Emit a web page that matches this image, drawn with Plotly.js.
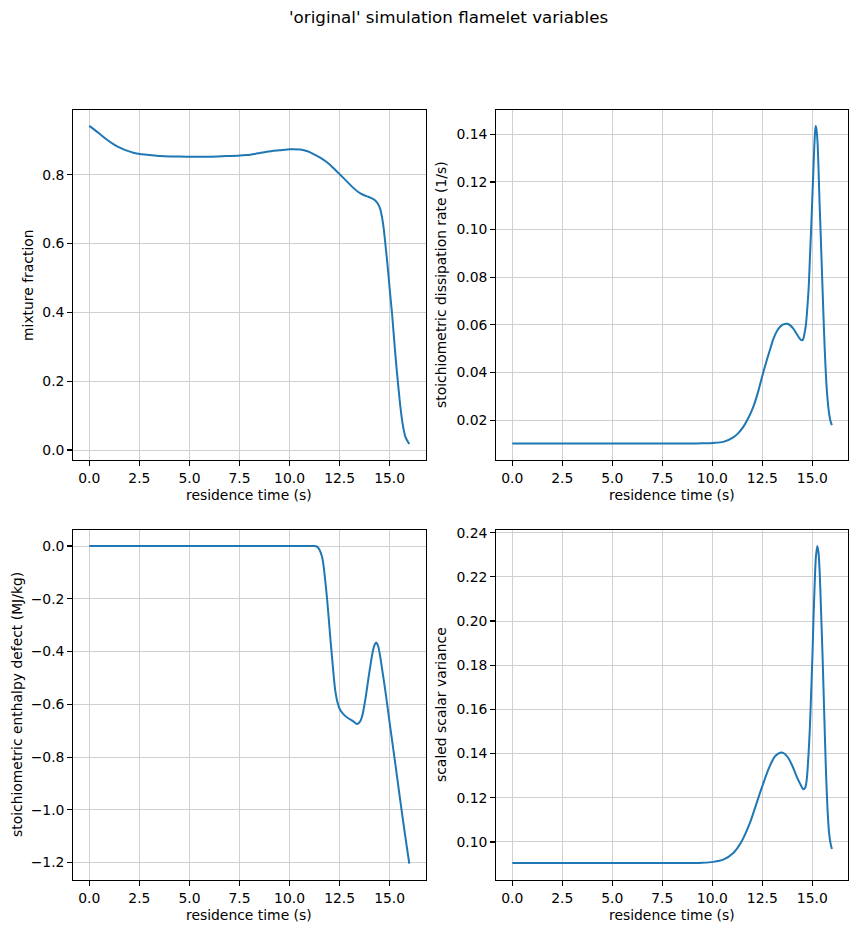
<!DOCTYPE html>
<html>
<head>
<meta charset="utf-8">
<script src="https://cdn.plot.ly/plotly-3.0.1.min.js"></script>
<style>html,body{margin:0;padding:0;background:#fff;}#chart{width:858px;height:933px;}</style>
</head>
<body>
<div id="chart"></div>
<script>
// residence time (s) and values for each panel
const tMix = [0, 0.25, 0.53, 0.85, 1.2, 1.55, 1.87, 2.2, 2.53, 3.0, 3.53, 4.3, 5.03, 6.0, 6.87, 7.4, 7.87, 8.4, 8.87, 9.5, 10.03, 10.53, 10.9, 11.2, 11.55, 11.87, 12.2, 12.53, 12.87, 13.2, 13.45, 13.7, 13.92, 14.12, 14.28, 14.42, 14.53, 14.62, 14.7, 14.78, 14.87, 14.95, 15.03, 15.12, 15.2, 15.28, 15.37, 15.45, 15.53, 15.62, 15.7, 15.78, 15.88, 15.98];
const mixtureFraction = [0.942, 0.931, 0.918, 0.903, 0.889, 0.878, 0.870, 0.864, 0.860, 0.857, 0.854, 0.853, 0.852, 0.852, 0.854, 0.855, 0.857, 0.862, 0.867, 0.871, 0.874, 0.873, 0.868, 0.860, 0.849, 0.836, 0.819, 0.800, 0.780, 0.761, 0.749, 0.741, 0.736, 0.731, 0.725, 0.715, 0.700, 0.676, 0.645, 0.602, 0.551, 0.502, 0.450, 0.396, 0.338, 0.280, 0.222, 0.174, 0.128, 0.087, 0.059, 0.039, 0.027, 0.0174];

const tChi = [0, 2, 4, 6, 8, 9.0, 9.5, 10.05, 10.55, 11.05, 11.3, 11.55, 11.8, 12.05, 12.3, 12.52, 12.72, 12.9, 13.05, 13.22, 13.38, 13.55, 13.75, 13.9, 14.05, 14.2, 14.35, 14.45, 14.53, 14.6, 14.68, 14.75, 14.82, 14.88, 14.94, 15.0, 15.05, 15.1, 15.14, 15.17, 15.21, 15.26, 15.31, 15.36, 15.42, 15.48, 15.55, 15.62, 15.7, 15.77, 15.84, 15.91, 15.98];
const dissipationRate = [0.0102, 0.0102, 0.0102, 0.0102, 0.0102, 0.0102, 0.0103, 0.01045, 0.0109, 0.0128, 0.0146, 0.0172, 0.0209, 0.0256, 0.0322, 0.0392, 0.0451, 0.0500, 0.0540, 0.0572, 0.0591, 0.0602, 0.0605, 0.0598, 0.0584, 0.0565, 0.0545, 0.0536, 0.0538, 0.0560, 0.0600, 0.0670, 0.0758, 0.088, 0.100, 0.113, 0.124, 0.135, 0.141, 0.1435, 0.142, 0.137, 0.126, 0.112, 0.098, 0.083, 0.066, 0.050, 0.036, 0.028, 0.0228, 0.0197, 0.0179];

const tH = [0, 5, 10, 10.8, 11.2, 11.37, 11.5, 11.62, 11.7, 11.78, 11.87, 11.95, 12.03, 12.12, 12.2, 12.28, 12.4, 12.53, 12.75, 12.95, 13.17, 13.37, 13.5, 13.62, 13.78, 13.95, 14.07, 14.17, 14.25, 14.33, 14.42, 14.53, 14.65, 14.78, 15.0, 15.2, 15.37, 15.53, 15.75, 15.98];
const enthalpyDefect = [0, 0, 0, 0, 0, -0.002, -0.015, -0.04, -0.075, -0.129, -0.197, -0.268, -0.343, -0.42, -0.488, -0.546, -0.594, -0.622, -0.642, -0.654, -0.664, -0.675, -0.668, -0.647, -0.584, -0.496, -0.437, -0.395, -0.374, -0.366, -0.378, -0.42, -0.48, -0.546, -0.67, -0.78, -0.875, -0.965, -1.085, -1.204];

const tVar = [0, 5, 9.0, 9.5, 10.05, 10.55, 11.05, 11.47, 11.88, 12.12, 12.38, 12.6, 12.8, 12.97, 13.13, 13.3, 13.47, 13.63, 13.8, 14.0, 14.22, 14.4, 14.55, 14.64, 14.72, 14.8, 14.88, 14.94, 15.0, 15.06, 15.12, 15.18, 15.25, 15.31, 15.37, 15.44, 15.52, 15.6, 15.68, 15.76, 15.84, 15.91, 15.98];
const scaledVariance = [0.0905, 0.0905, 0.0905, 0.0906, 0.091, 0.092, 0.095, 0.1003, 0.1086, 0.115, 0.1221, 0.1278, 0.1327, 0.1362, 0.1387, 0.1400, 0.1405, 0.1398, 0.138, 0.1345, 0.1296, 0.1262, 0.1239, 0.1245, 0.1281, 0.138, 0.152, 0.167, 0.1823, 0.201, 0.217, 0.229, 0.234, 0.231, 0.222, 0.204, 0.182, 0.157, 0.133, 0.115, 0.104, 0.0995, 0.0968];

const xTitle = 'residence time (s)';
const yTitles = ['mixture fraction', 'stoichiometric dissipation rate (1/s)', 'stoichiometric enthalpy defect (MJ/kg)', 'scaled scalar variance'];
const figTitle = "'original' simulation flamelet variables";

const W = 858, H = 933;
const lineStyle = {color: '#1f77b4', width: 2, shape: 'spline', smoothing: 0.8};
const traces = [
  {x: tMix, y: mixtureFraction, xaxis: 'x', yaxis: 'y'},
  {x: tChi, y: dissipationRate, xaxis: 'x2', yaxis: 'y2'},
  {x: tH, y: enthalpyDefect, xaxis: 'x3', yaxis: 'y3'},
  {x: tVar, y: scaledVariance, xaxis: 'x4', yaxis: 'y4'}
].map(t => Object.assign(t, {type: 'scatter', mode: 'lines', line: lineStyle, hoverinfo: 'skip', showlegend: false}));

const font = {family: 'DejaVu Sans', size: 13.9, color: '#000'};
const px2x = p => p / W;
const px2y = p => 1 - p / H;
const colDom = [[px2x(73.3), px2x(425.7)], [px2x(496.3), px2x(848.3)]];
const rowDom = [[px2y(460), px2y(110)], [px2y(880), px2y(530)]];

function xa(dom, anchor) {
  return {domain: dom, anchor: anchor, range: [-0.8, 16.8], dtick: 2.5, tick0: 0, tickformat: '.1f',
    showline: true, mirror: true, linecolor: '#000', linewidth: 1.1, ticks: 'outside', ticklen: 5, tickwidth: 1.1, tickcolor: '#000',
    showgrid: true, gridcolor: '#d0d0d0', gridwidth: 1, zeroline: false, automargin: false, tickfont: font};
}
function ya(dom, anchor, range, dtick, fmt) {
  return {domain: dom, anchor: anchor, range: range, dtick: dtick, tick0: 0, tickformat: fmt,
    showline: true, mirror: true, linecolor: '#000', linewidth: 1.1, ticks: 'outside', ticklen: 5, tickwidth: 1.1, tickcolor: '#000',
    showgrid: true, gridcolor: '#d0d0d0', gridwidth: 1, zeroline: false, automargin: false, tickfont: font};
}

const annotations = [
  {text: figTitle, x: 448 / W, y: px2y(17), xref: 'paper', yref: 'paper', showarrow: false, font: {family: 'DejaVu Sans', size: 16.7, color: '#000'}, xanchor: 'center', yanchor: 'middle'},
  {text: xTitle, x: 249 / W, y: px2y(495), xref: 'paper', yref: 'paper', showarrow: false, font: font, xanchor: 'center', yanchor: 'middle'},
  {text: xTitle, x: 672 / W, y: px2y(495), xref: 'paper', yref: 'paper', showarrow: false, font: font, xanchor: 'center', yanchor: 'middle'},
  {text: xTitle, x: 249 / W, y: px2y(915), xref: 'paper', yref: 'paper', showarrow: false, font: font, xanchor: 'center', yanchor: 'middle'},
  {text: xTitle, x: 672 / W, y: px2y(915), xref: 'paper', yref: 'paper', showarrow: false, font: font, xanchor: 'center', yanchor: 'middle'},
  {text: yTitles[0], x: 28 / W, y: px2y(285), xref: 'paper', yref: 'paper', showarrow: false, font: font, textangle: -90, xanchor: 'center', yanchor: 'middle'},
  {text: yTitles[1], x: 441 / W, y: px2y(285), xref: 'paper', yref: 'paper', showarrow: false, font: font, textangle: -90, xanchor: 'center', yanchor: 'middle'},
  {text: yTitles[2], x: 17 / W, y: px2y(705), xref: 'paper', yref: 'paper', showarrow: false, font: font, textangle: -90, xanchor: 'center', yanchor: 'middle'},
  {text: yTitles[3], x: 441 / W, y: px2y(705), xref: 'paper', yref: 'paper', showarrow: false, font: font, textangle: -90, xanchor: 'center', yanchor: 'middle'}
];

const layout = {
  width: W, height: H, margin: {l: 0, r: 0, t: 0, b: 0}, paper_bgcolor: '#fff', plot_bgcolor: '#fff',
  font: font, showlegend: false,
  xaxis: xa(colDom[0], 'y'), yaxis: ya(rowDom[0], 'x', [-0.029, 0.988], 0.2, '.1f'),
  xaxis2: xa(colDom[1], 'y2'), yaxis2: ya(rowDom[0], 'x2', [0.0033, 0.1502], 0.02, '.2f'),
  xaxis3: xa(colDom[0], 'y3'), yaxis3: ya(rowDom[1], 'x3', [-1.266, 0.0607], 0.2, '.1f'),
  xaxis4: xa(colDom[1], 'y4'), yaxis4: ya(rowDom[1], 'x4', [0.0828, 0.2412], 0.02, '.2f'),
  annotations: annotations
};

Plotly.newPlot('chart', traces, layout, {displayModeBar: false, staticPlot: true});
</script>
</body>
</html>
